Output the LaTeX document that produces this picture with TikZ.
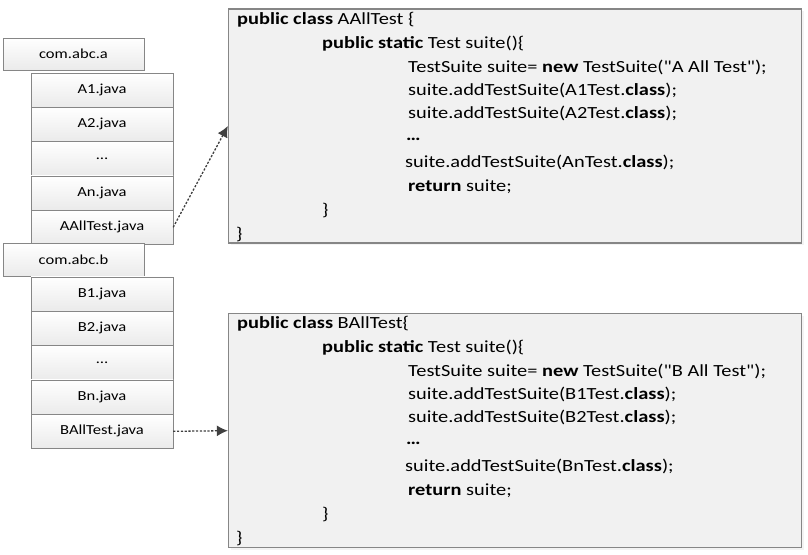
\documentclass[tikz,border=0pt]{standalone}
\usepackage{fontspec}
\setmainfont{Carlito}[FakeStretch=1.2, Ligatures=TeXOff]
\usetikzlibrary{positioning,shadows,arrows.meta}
\tikzset{>=latex}
\newcommand{\filew}{142}
\newcommand{\rowh}{34}
\newcommand{\codefont}{\fontsize{17}{19}\selectfont}
\tikzset{
  pkgbox/.style = {draw=gray!95, top color=white, bottom color=gray!16,
    minimum width=141pt, minimum height=32pt, inner sep=0pt,
    font=\fontsize{13.8}{16}\selectfont},
  filebox/.style = {pkgbox, minimum width=\filew pt, minimum height=\rowh pt},
  codebox/.style = {draw=gray!95, line width=1.3pt, fill=gray!11,
    minimum width=573pt, minimum height=234pt,
    drop shadow={fill=gray!18, shadow xshift=2pt, shadow yshift=-2pt}},
  codeline/.style = {anchor=base west, inner sep=0pt, font=\codefont},
  link/.style = {->, >={Latex[length=11pt,width=11pt]}, draw=black!75,
    line width=1.3pt, dash pattern=on 2.2pt off 1.6pt}
}

\begin{document}
\begin{tikzpicture}[x=1pt,y=-1pt]
  \useasboundingbox (0,0) rectangle (808,554);
  \node[pkgbox] (pkga) at (73.5,54) {com.abc.a};
  \node[filebox] (a1) at (102,89.7) {A1.java};
  \node[filebox, below=0pt of a1] (a2) {A2.java};
  \node[filebox, below=0pt of a2] (adots) {\dots};
  \node[filebox, below=0pt of adots] (an) {An.java};
  \node[filebox, below=0pt of an] (aall) {AAllTest.java};
  \node[pkgbox, minimum height=33pt] (pkgb) at (73.5,259.5) {com.abc.b};
  \node[filebox] (b1) at (102,293.7) {B1.java};
  \node[filebox, below=0pt of b1] (b2) {B2.java};
  \node[filebox, below=0pt of b2] (bdots) {\dots};
  \node[filebox, below=0pt of bdots] (bn) {Bn.java};
  \node[filebox, below=0pt of bn] (ball) {BAllTest.java};

  \node[codebox] (codea) at (515,126) {};
  \node[codebox] (codeb) at (515,430.7) {};
  \foreach \x/\y/\t [count=\i] in {
    237/24/{\textbf{public class} AAllTest \{},
    322/48/{\textbf{public static} Test suite()\{},
    408/72/{TestSuite suite= \textbf{new} TestSuite("A All Test");},
    408/95/{suite.addTestSuite(A1Test.\textbf{class});},
    408/118/{suite.addTestSuite(A2Test.\textbf{class});},
    406/140/{\textbf{\dots}},
    405/167/{suite.addTestSuite(AnTest.\textbf{class});},
    408/191/{\textbf{return} suite;},
    322/215/{\}},
    236/239/{\}}}
    \node[codeline] (la\i) at (\x,\y) {\t};
  \foreach \x/\y/\t [count=\i] in {
    237/328/{\textbf{public class} BAllTest\{},
    322/352/{\textbf{public static} Test suite()\{},
    408/376/{TestSuite suite= \textbf{new} TestSuite("B All Test");},
    408/399/{suite.addTestSuite(B1Test.\textbf{class});},
    408/422/{suite.addTestSuite(B2Test.\textbf{class});},
    406/444/{\textbf{\dots}},
    405/471/{suite.addTestSuite(BnTest.\textbf{class});},
    408/495/{\textbf{return} suite;},
    322/519/{\}},
    236/543/{\}}}
    \node[codeline] (lb\i) at (\x,\y) {\t};

  \draw[link] (aall.east) -- (codea.west);
  \draw[link] (ball.east) -- (codeb.west);
\end{tikzpicture}
\end{document}
